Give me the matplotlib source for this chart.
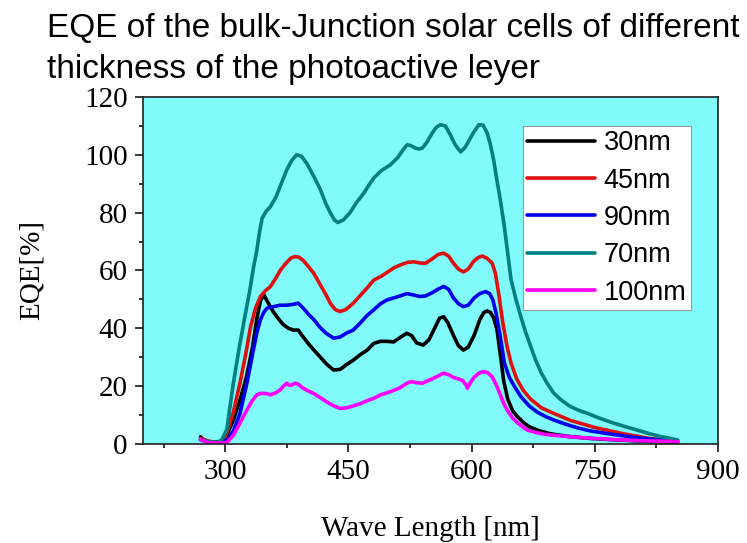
import matplotlib
matplotlib.use("Agg")
import matplotlib.pyplot as plt
from matplotlib.ticker import MultipleLocator

# ---- data ----
labels = ["30nm", "45nm", "90nm", "70nm", "100nm"]
colors = ["#000000", "#DD1111", "#0000EE", "#008080", "#FF00FF"]

wl_30 = [270, 275, 285, 295, 302, 310, 318, 326, 333, 339, 343, 347, 352, 358, 363, 370, 377, 383, 389,
         395, 402, 408, 416, 424, 432, 440, 448, 456, 465, 473, 481, 489, 497, 505, 513, 521, 527, 533,
         541, 548, 555, 561, 566, 571, 578, 584, 590, 596, 603, 610, 615, 619, 623, 627, 631, 635, 639,
         644, 650, 656, 663, 670, 680, 695, 715, 741, 770, 800, 850]
eqe_30 = [2.5, 1, 0.5, 0.8, 3, 8.3, 15, 23.3, 33, 44, 49.5, 51.6, 49, 46, 44, 41.5, 40, 39.4, 39.4,
          37, 34.5, 32.5, 30, 27.5, 25.6, 25.8, 27.5, 29, 31, 32.5, 34.8, 35.5, 35.5, 35.3, 36.8, 38.3, 37.5, 35,
          34.2, 36, 40, 43.5, 44, 42, 37.5, 34, 32.5, 33.5, 37.5, 43, 45.5, 46, 45.5, 43.5, 39.4, 31, 22,
          15.5, 11.5, 9.4, 7.5, 6, 4.8, 3.6, 2.7, 2, 1.5, 1.1, 0.5]

wl_45 = [270, 280, 290, 297, 302, 310, 318, 325, 331, 337, 343, 349, 355, 361, 367, 374, 380, 385, 390,
         395, 401, 408, 415, 422, 428, 434, 440, 447, 456, 465, 473, 481, 490, 498, 506, 514, 522, 530,
         537, 544, 552, 559, 566, 572, 578, 584, 590, 596, 602, 608, 613, 619, 625, 629, 633, 638, 643,
         648, 655, 663, 672, 685, 700, 720, 750, 782, 815, 851]
eqe_45 = [2, 1, 0.5, 1, 3.8, 11, 21, 31, 40.6, 47, 51, 53, 54.4, 57, 60, 62.5, 64.3, 64.8, 64.6,
          63.5, 61.5, 59, 55.5, 52, 48.7, 46.5, 45.8, 46.5, 48.7, 51.5, 54, 56.7, 58, 59.5, 61, 62, 62.8, 63,
          62.6, 62.5, 64, 65.5, 66, 65, 62.5, 60.5, 59.5, 60.5, 63, 64.5, 65, 64.2, 62.6, 59, 52, 42, 34,
          28, 22.5, 18.5, 15.5, 12.5, 10.6, 8.2, 5.7, 3.7, 2, 0.8]

wl_90 = [270, 280, 295, 303, 310, 318, 326.5, 334, 339, 343, 347, 351, 359, 367, 375, 383, 389, 395, 401,
         408, 415, 422, 432, 440, 448, 456, 465, 473, 481, 489, 497, 505, 513, 521, 530, 537, 544, 552, 559,
         566, 572, 578, 584, 590, 596, 603, 610, 617, 622, 626, 630, 635, 640, 646, 653, 660, 670, 680,
         690, 700, 715, 730, 745, 761, 780, 800, 825, 851]
eqe_90 = [1.5, 0.5, 0.5, 1.5, 4.5, 10.5, 21, 32, 39, 43, 45.5, 47, 47.5, 48, 48, 48.3, 48.7, 47, 45,
          43, 40.5, 38.5, 36.6, 37, 38.4, 39.4, 42, 44.5, 46.4, 48.5, 49.8, 50.5, 51.2, 52, 51.5, 51, 51.2, 52.3, 53.5,
          54.5, 53.5, 50.5, 48.5, 47.5, 48, 50.5, 52, 52.7, 52, 49.8, 45, 37, 28, 23, 19.5, 16.4, 13.2, 11,
          9.5, 8.3, 6.8, 5.5, 4.5, 3.8, 3, 2.2, 1.5, 0.8]

wl_70 = [270, 280, 290, 296, 302, 310, 317, 324, 330, 334.5, 338.6, 342, 345, 350, 355, 362, 369, 375, 381,
         387, 393, 399.5, 408, 416, 422, 428, 433, 437, 444, 452, 460, 468.7, 475, 481, 490, 501, 510, 516,
         521.6, 526, 531.7, 536, 540, 546, 552, 557, 562, 568, 574, 580, 586.6, 592, 597, 603, 609, 614, 619,
         623, 627, 631, 635, 640, 643.5, 648, 654, 660, 666, 672, 678, 685, 692, 700, 710, 720, 730, 741, 755,
         770, 786, 802, 816, 830, 851]
eqe_70 = [1.5, 0.8, 0.5, 1.5, 5, 21, 33, 44, 53, 61, 67, 73.5, 78, 80.5, 82, 85.5, 90.5, 94.8, 98,
          100, 99.5, 97, 92.5, 88, 83.5, 80, 77.5, 76.6, 77.5, 80, 83.5, 86.7, 89.5, 92, 94.5, 96.5, 99, 101.5,
          103.5, 103.2, 102.3, 102, 102.3, 104.5, 107.5, 109.5, 110.4, 110, 107, 103.5, 101, 102.5, 105, 108, 110.4, 110.3, 107.5,
          103.5, 98, 91, 84.4, 75, 67, 57, 50, 44, 38.5, 33.7, 29, 24.5, 21, 17.6, 15, 13, 11.7, 10.6, 9,
          7.5, 6.1, 4.8, 3.6, 2.6, 1.4]

wl_100 = [270, 280, 290, 302, 310, 318, 326, 333, 338.6, 343, 347, 351, 355, 361, 367, 371, 375, 378, 381,
          385, 389, 394, 400, 407.7, 416, 424, 432, 440, 448, 456, 465, 473, 481, 489, 497, 505, 513, 520,
          526, 533, 540, 546, 552, 559, 566, 572, 578, 584, 589, 593, 595, 598, 603, 608, 613, 619, 625,
          630, 635, 640, 645, 650, 656, 662, 668, 678, 690, 705, 720, 745, 770, 800, 825, 851]
eqe_100 = [1.5, 0.4, 0.3, 0.5, 3, 7.2, 11.5, 15, 17, 17.5, 17.5, 17.4, 17, 17.6, 18.7, 20, 21, 20.3, 20.4,
           21, 20.7, 19.5, 18.5, 17.5, 16, 14.5, 13.2, 12.3, 12.5, 13.2, 14, 15, 15.8, 17, 17.7, 18.5, 19.5, 20.8,
           21.6, 21.2, 21, 21.8, 22.5, 23.5, 24.5, 24, 23, 22.5, 22, 20.5, 19.3, 21, 23, 24.3, 25, 24.8, 23.3,
           20.5, 17, 13.5, 11, 9, 7.3, 6, 4.8, 4, 3.3, 2.9, 2.5, 2, 1.6, 1.2, 1, 0.8]

title = "EQE of the bulk-Junction solar cells of different\nthickness of the photoactive leyer"
xlabel = "Wave Length [nm]"
ylabel = "EQE[%]"
xticks = [300, 450, 600, 750, 900]
yticks = [0, 20, 40, 60, 80, 100, 120]

# ---- plot ----
fig = plt.figure(figsize=(7.47, 5.43), dpi=100)
ax = fig.add_axes([0.1914, 0.1823, 0.7698, 0.6391])
ax.set_facecolor("#80FAFA")

series = [(wl_30, eqe_30), (wl_45, eqe_45), (wl_90, eqe_90), (wl_70, eqe_70), (wl_100, eqe_100)]
for (x, y), lab, c in zip(series, labels, colors):
    ax.plot(x, y, color=c, lw=2.6, label=lab, solid_joinstyle="round", solid_capstyle="round")

ax.set_xlim(200, 900)
ax.set_ylim(0, 120)
ax.set_xticks(xticks)
ax.set_yticks(yticks)
ax.xaxis.set_minor_locator(MultipleLocator(75))
ax.yaxis.set_minor_locator(MultipleLocator(10))
ax.tick_params(which="major", direction="out", length=6, width=1.1, pad=5)
ax.tick_params(which="minor", direction="out", length=3, width=1.1)
ax.tick_params(top=False, right=False)
for lab in ax.get_xticklabels() + ax.get_yticklabels():
    lab.set_fontfamily("Liberation Serif")
    lab.set_fontsize(21)
for s in ax.spines.values():
    s.set_linewidth(1.2)
    s.set_color("#222222")

ax.set_xlabel(xlabel, fontfamily="Liberation Serif", fontsize=21, labelpad=22)
ax.set_ylabel(ylabel, fontfamily="Liberation Serif", fontsize=21, labelpad=28)

leg = ax.legend(loc="upper left", bbox_to_anchor=(0.661, 0.916), borderaxespad=0,
                prop={"family": "Liberation Sans", "size": 19.5},
                handlelength=2.5, handletextpad=0.33, labelspacing=0.42,
                borderpad=0.15, handleheight=0.7, fancybox=False, framealpha=1, edgecolor="#999999")
leg.get_frame().set_linewidth(0.8)

fig.text(47 / 747, 1 - 13 / 543, title, ha="left", va="top", fontfamily="Liberation Sans",
         fontsize=24, linespacing=1.4)

fig.savefig("out.png", dpi=100)
